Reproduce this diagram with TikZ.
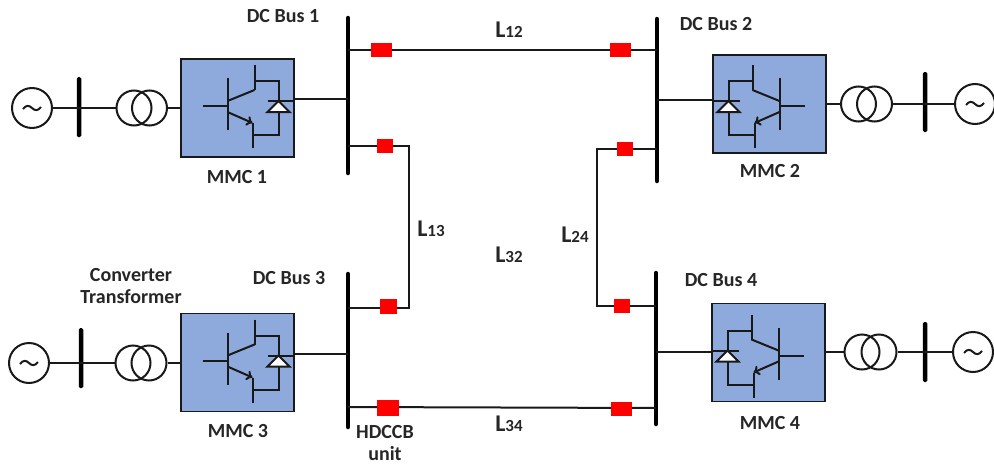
\documentclass[tikz,border=0pt]{standalone}
\usepackage{fontspec}
\setmainfont{Carlito}
\usetikzlibrary{arrows.meta}

\definecolor{boxblue}{HTML}{8EA9DB}

\tikzset{
  wire/.style={line width=2pt, black!90},
  gen/.style={circle, draw=black!90, line width=2pt, minimum size=40pt, inner sep=0pt,
    path picture={\draw[line width=2pt, black!90, shift={(path picture bounding box.center)}] (-9,1)
      .. controls (-6,-3) and (-3,-3) .. (0,0) .. controls (3,3) and (6,3) .. (9,-1);}},
  coil/.style={circle, draw=black!90, line width=2pt, minimum size=35pt, inner sep=0pt},
  bar/.style={rectangle, rounded corners=1.5pt, fill=black, minimum width=4.5pt, inner sep=0pt},
  bus/.style={line width=4.5pt, black, line cap=round},
  cb/.style={rectangle, fill=red, inner sep=0pt},
  mmc/.style={rectangle, draw=black!90, line width=1.8pt, fill=boxblue, minimum width=113pt, minimum height=98pt},
  lbl/.style={font=\fontsize{20}{22}\selectfont\bfseries, text=black!85, align=center},
  line/.style={font=\fontsize{24}{26}\selectfont\bfseries, text=black!85},
  igbt/.pic={
    \draw[wire] (-35,-2) -- (-10,-2);
    \draw[wire] (-10,-30) -- (-10,22);
    \draw[wire] (-10,-7) -- (17,-18);
    \draw[wire] (17,-43) -- (17,-18);
    \draw[wire] (17,-27) -- (41,-27) -- (41,-7);
    \draw[wire, fill=white] (41,-7) -- (30,4) -- (52,4) -- cycle;
    \draw[wire] (30,-7) -- (57,-7);
    \draw[wire] (41,4) -- (41,27) -- (15,27);
    \draw[wire] (15,15) -- (15,40);
    \draw[wire, -{To[length=6pt,width=10pt]}] (-10,4) -- (15,15);
  }
}
\newcommand{\LineName}[2]{L{\fontsize{17}{19}\selectfont #1#2}}

\begin{document}
\begin{tikzpicture}[x=1pt, y=-1pt]
\useasboundingbox (0,0) rectangle (994,466);

\coordinate (Bus1t) at (348,18);
\coordinate (Bus1b) at (348,173);
\coordinate (Bus2t) at (657,19);
\coordinate (Bus2b) at (657,181);
\coordinate (Bus3t) at (348,274);
\coordinate (Bus3b) at (348,427);
\coordinate (Bus4t) at (656,273);
\coordinate (Bus4b) at (656,424);
\draw[bus] (Bus1t) -- (Bus1b);
\draw[bus] (Bus2t) -- (Bus2b);
\draw[bus] (Bus3t) -- (Bus3b);
\draw[bus] (Bus4t) -- (Bus4b);

\node[gen] (Gen1) at (32,108) {};
\node[bar, minimum height=60pt] (Bar1) at (79,107) {};
\node[coil] (T1a) at (134,108) {};
\node[coil] (T1b) at (149.5,108) {};
\node[mmc] (MMC1) at (237.5,108) {};
\pic at (MMC1.center) {igbt};
\draw[wire] (Gen1) -- (T1a);
\draw[wire] (T1b) -- (MMC1.west |- T1b);
\coordinate (P1) at (348,99);
\draw[wire] (MMC1.east |- P1) -- (P1);

\node[gen] (Gen2) at (975,104) {};
\node[bar, minimum height=60pt] (Bar2) at (925,102) {};
\node[coil] (T2a) at (874.5,104) {};
\node[coil] (T2b) at (858.5,104) {};
\node[mmc] (MMC2) at (769.5,104) {};
\pic[xscale=-1] at ([yshift=-4pt]MMC2.center) {igbt};
\draw[wire] (Gen2) -- (T2a);
\draw[wire] (T2b) -- (MMC2.east |- T2b);
\coordinate (P2) at (657,100);
\draw[wire] (MMC2.west |- P2) -- (P2);

\node[gen] (Gen3) at (29,363) {};
\node[bar, minimum height=60pt] (Bar3) at (81,358) {};
\node[coil] (T3a) at (133,363) {};
\node[coil] (T3b) at (149,363) {};
\node[mmc] (MMC3) at (237.5,362.5) {};
\pic at (MMC3.center) {igbt};
\draw[wire] (Gen3) -- (T3a);
\draw[wire] (T3b) -- (MMC3.west |- T3b);
\coordinate (P3) at (348,354);
\draw[wire] (MMC3.east |- P3) -- (P3);

\node[gen] (Gen4) at (973,352) {};
\node[bar, minimum height=60pt] (Bar4) at (925,352) {};
\node[coil] (T4a) at (879,352) {};
\node[coil] (T4b) at (862,352) {};
\node[mmc] (MMC4) at (768.5,352.5) {};
\pic[xscale=-1] at ([yshift=-5pt]MMC4.center) {igbt};
\draw[wire] (Gen4) -- (T4a);
\draw[wire] (T4b) -- (MMC4.east |- T4b);
\coordinate (P4) at (656,352);
\draw[wire] (MMC4.west |- P4) -- (P4);

\coordinate (J12a) at (348,50);
\coordinate (J12b) at (657,50);
\coordinate (J13a) at (348,146);
\coordinate (J13b) at (409,146);
\coordinate (J13c) at (409,308);
\coordinate (J13d) at (348,308);
\coordinate (J24a) at (657,149);
\coordinate (J24b) at (597,149);
\coordinate (J24c) at (597,306);
\coordinate (J24d) at (656,306);
\coordinate (J34a) at (348,407);
\coordinate (J34b) at (656,408);
\draw[wire] (J12a) -- (J12b);
\draw[wire] (J13a) -- (J13b) -- (J13c) -- (J13d);
\draw[wire] (J24a) -- (J24b) -- (J24c) -- (J24d);
\draw[wire] (J34a) -- (J34b);

\node[cb, minimum width=21pt, minimum height=14pt] (CB12) at (381.5,50) {};
\node[cb, minimum width=21pt, minimum height=14pt] (CB21) at (620.5,50) {};
\node[cb, minimum width=16pt, minimum height=14pt] (CB13) at (385,146) {};
\node[cb, minimum width=16pt, minimum height=14pt] (CB24) at (625,149) {};
\node[cb, minimum width=17pt, minimum height=15pt] (CB31) at (388.5,306.5) {};
\node[cb, minimum width=16pt, minimum height=14pt] (CB42) at (622,306) {};
\node[cb, minimum width=22pt, minimum height=16pt] (CB34) at (388,408) {};
\node[cb, minimum width=21pt, minimum height=14pt] (CB43) at (621.5,409) {};

\node[lbl] (Name1) at (283,16) {DC Bus 1};
\node[lbl] (Name2) at (716,24) {DC Bus 2};
\node[lbl] (Name3) at (289,278) {DC Bus 3};
\node[lbl] (Name4) at (721,280) {DC Bus 4};
\node[lbl] (Conv1) at (237,177) {MMC 1};
\node[lbl] (Conv2) at (770,171) {MMC 2};
\node[lbl] (Conv3) at (238,431) {MMC 3};
\node[lbl] (Conv4) at (770,423) {MMC 4};
\node[lbl] (Xfmr) at (131,286) {Converter\\Transformer};
\node[lbl] (Hdccb) at (385,443) {HDCCB\\unit};

\node[line] (L12) at (509,30) {\LineName12};
\node[line] (L13) at (431,229) {\LineName13};
\node[line] (L32) at (509,255) {\LineName32};
\node[line] (L24) at (575,235) {\LineName24};
\node[line] (L34) at (509,424) {\LineName34};

\end{tikzpicture}
\end{document}
